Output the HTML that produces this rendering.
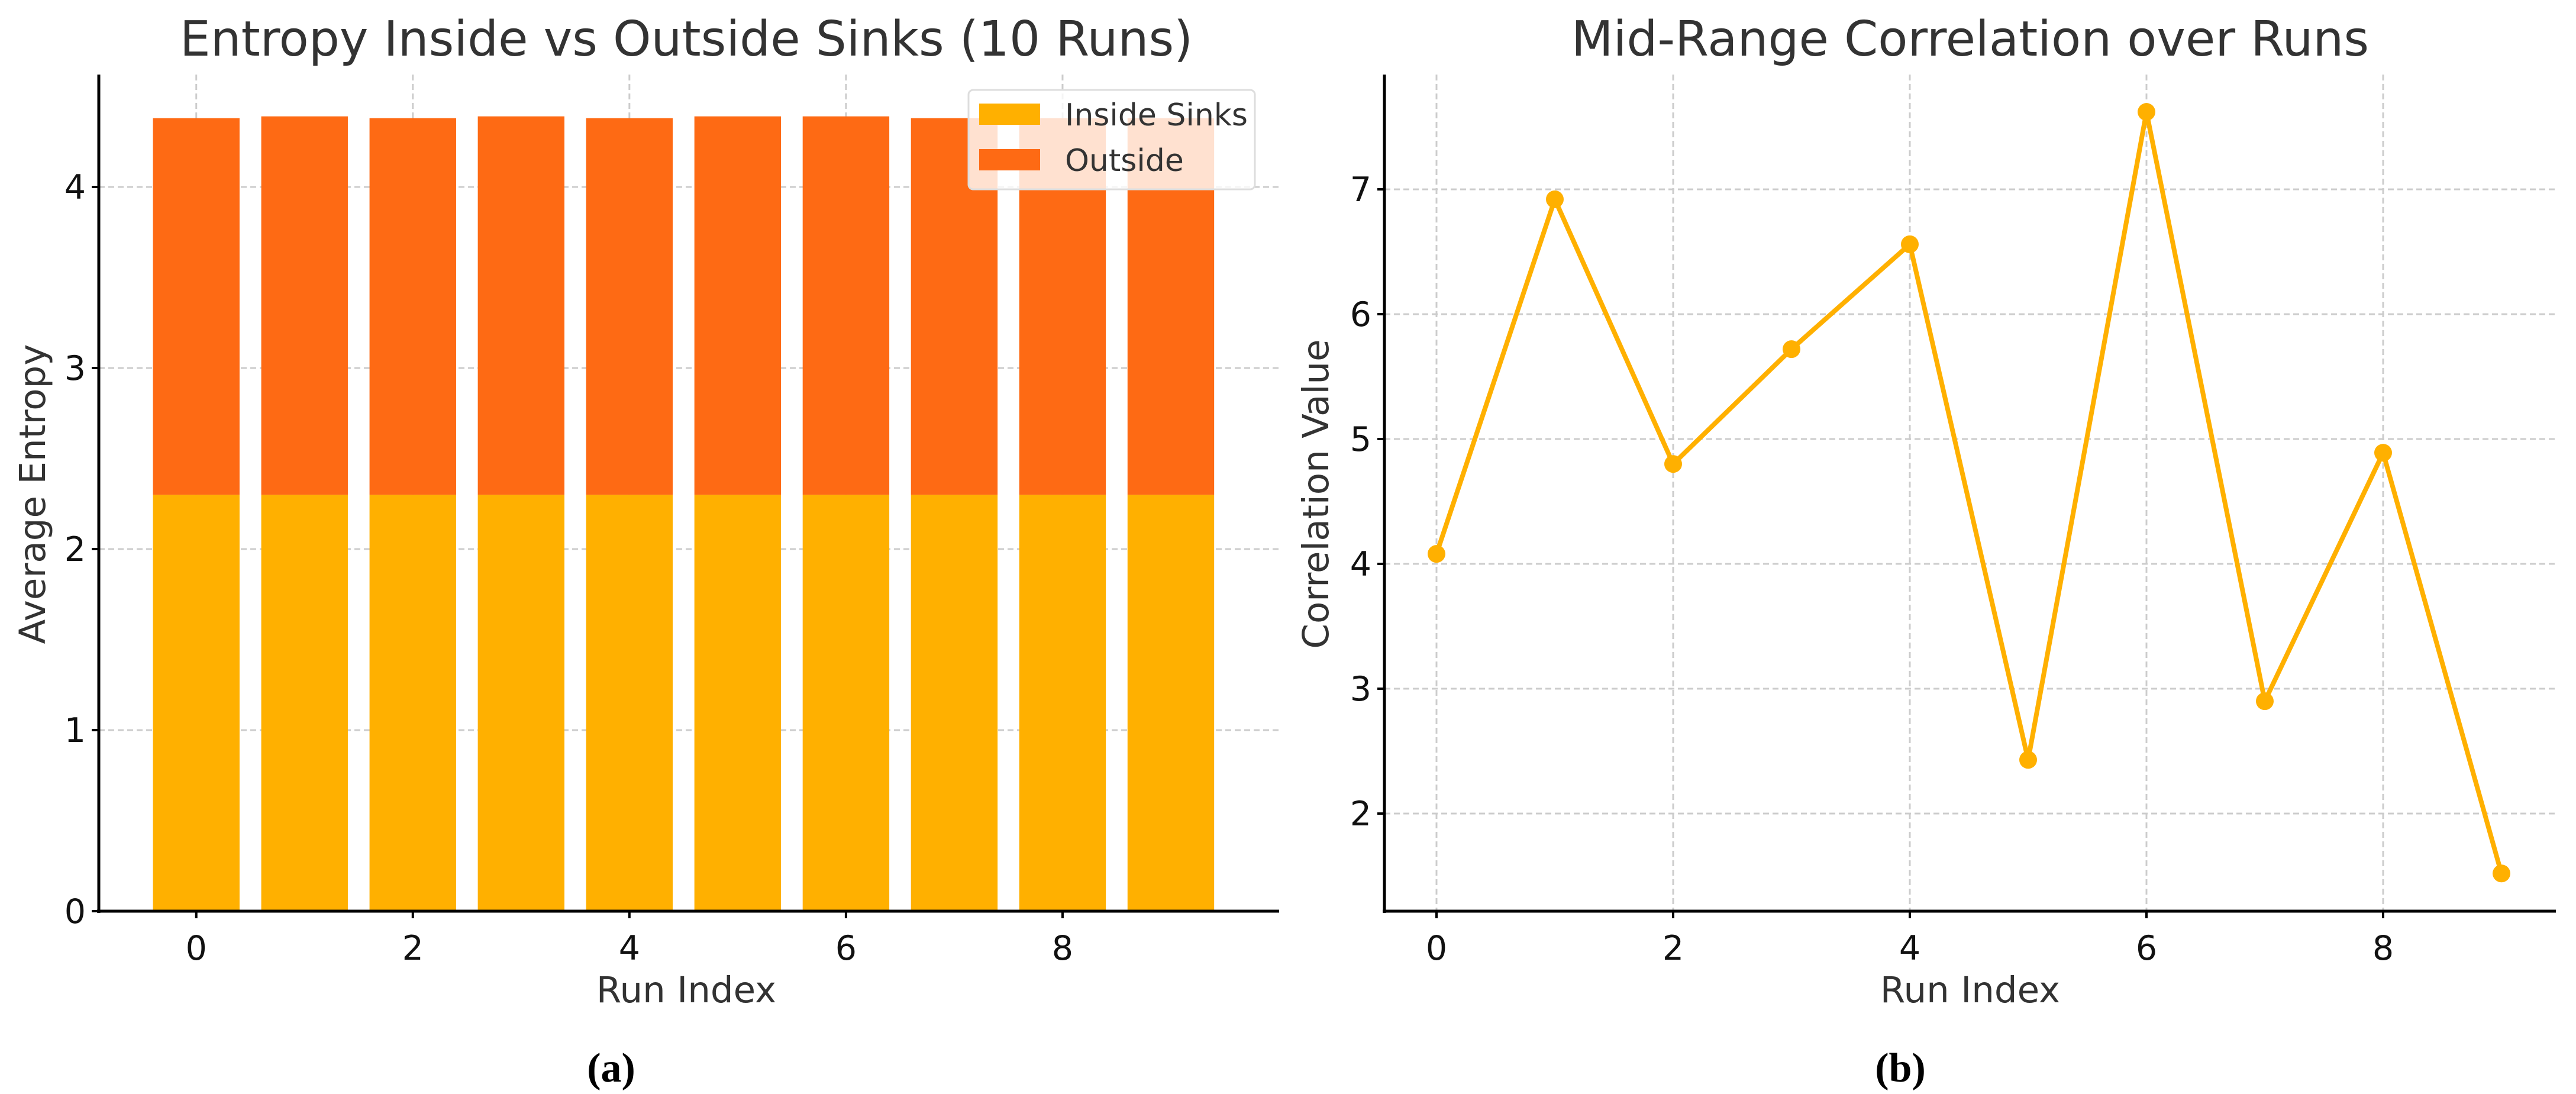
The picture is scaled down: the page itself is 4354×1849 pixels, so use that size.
<!DOCTYPE html>
<html><head><meta charset="utf-8"><style>
html,body{margin:0;padding:0;background:#fff;}
svg{display:block;font-family:"DejaVu Sans","Liberation Sans",sans-serif;}
</style></head><body>
<svg id="fig" width="4354" height="1849" viewBox="0 0 4354 1849"></svg>
<script>
const runs = [0,1,2,3,4,5,6,7,8,9];
const insideVals = [2.30,2.30,2.30,2.30,2.30,2.30,2.30,2.30,2.30,2.30];
const outsideVals = [2.08,2.09,2.08,2.09,2.08,2.09,2.09,2.08,2.08,2.08];
const leftYTicks = [0,1,2,3,4];
const xTicks = [0,2,4,6,8];
const corrVals = [4.08,6.92,4.80,5.72,6.56,2.43,7.62,2.90,4.89,1.52];
const rightYTicks = [2,3,4,5,6,7];

const NS='http://www.w3.org/2000/svg';
const svg=document.getElementById('fig');
function mk(tag,attrs,parent){const e=document.createElementNS(NS,tag);for(const k in attrs)e.setAttribute(k,attrs[k]);(parent||svg).appendChild(e);return e;}
function txt(s,attrs,parent){const e=mk('text',attrs,parent);e.textContent=s;return e;}

// ---------- Left chart ----------
const L={x0:167,x1:2162,y0:1540,yTop:126,xmin:-0.9,xmax:10.0,ymin:0,ymax:4.6};
const lx=v=>L.x0+(v-L.xmin)/(L.xmax-L.xmin)*(L.x1-L.x0);
const ly=v=>L.y0-(v-L.ymin)*306;
const gL=mk('g',{});


leftYTicks.forEach(t=>{const l=mk('line',{x1:L.x0,x2:L.x1,y1:ly(t),y2:ly(t),stroke:'#cccccc','stroke-width':3,'stroke-dasharray':'10,6'},gL);

});
xTicks.forEach(t=>{const l=mk('line',{x1:lx(t),x2:lx(t),y1:L.yTop,y2:L.y0,stroke:'#cccccc','stroke-width':3,'stroke-dasharray':'10,6'},gL);

});
runs.forEach((r,i)=>{
  const w=0.8*183;
  const b1=mk('rect',{x:lx(r)-w/2,y:ly(insideVals[i]),width:w,height:ly(0)-ly(insideVals[i]),fill:'#FFB000'},gL);
  
  
  const top=insideVals[i]+outsideVals[i];
  const b2=mk('rect',{x:lx(r)-w/2,y:ly(top),width:w,height:ly(insideVals[i])-ly(top),fill:'#FE6A14'},gL);
  
  
});
mk('line',{x1:L.x0,x2:L.x0,y1:L.yTop,y2:L.y0+3,stroke:'#000','stroke-width':5},gL);
mk('line',{x1:L.x0-3,x2:L.x1,y1:L.y0,y2:L.y0,stroke:'#000','stroke-width':5},gL);
leftYTicks.forEach(t=>{mk('line',{x1:L.x0-12,x2:L.x0,y1:ly(t),y2:ly(t),stroke:'#000','stroke-width':4},gL);
 const e=txt(String(t),{x:L.x0-22,y:ly(t)+20,'text-anchor':'end','font-size':57,fill:'#111'},gL);
 
 });
xTicks.forEach(t=>{mk('line',{x1:lx(t),x2:lx(t),y1:L.y0,y2:L.y0+12,stroke:'#000','stroke-width':4},gL);
 const e=txt(String(t),{x:lx(t),y:L.y0+82,'text-anchor':'middle','font-size':57,fill:'#111'},gL);
 
 });
let e;
e=txt('Entropy Inside vs Outside Sinks (10 Runs)',{x:1160,y:94,'text-anchor':'middle','font-size':82,fill:'#333'},gL);


e=txt('Run Index',{x:1160,y:1694,'text-anchor':'middle','font-size':61,fill:'#333'},gL);


e=txt('Average Entropy',{x:0,y:0,'text-anchor':'middle','font-size':61,fill:'#333',transform:'translate(76,835) rotate(-90)'},gL);


const lg=mk('g',{},gL);


mk('rect',{x:1637,y:152,width:484,height:168,rx:8,fill:'rgba(255,255,255,0.8)',stroke:'#dddddd','stroke-width':3},lg);
mk('rect',{x:1655,y:175,width:103,height:36,fill:'#FFB000'},lg);
mk('rect',{x:1655,y:252,width:103,height:36,fill:'#FE6A14'},lg);
e=txt('Inside Sinks',{x:1800,y:212,'font-size':52,fill:'#333'},lg);


e=txt('Outside',{x:1800,y:289,'font-size':52,fill:'#333'},lg);



// ---------- Right chart ----------
const R={x0:2340,x1:4320,y0:1540,yTop:126};
const rx=v=>2428+v*200;
const ry=v=>1375-(v-2)*211;
const gR=mk('g',{});


rightYTicks.forEach(t=>{const l=mk('line',{x1:R.x0,x2:R.x1,y1:ry(t),y2:ry(t),stroke:'#cccccc','stroke-width':3,'stroke-dasharray':'10,6'},gR);

});
xTicks.forEach(t=>{const l=mk('line',{x1:rx(t),x2:rx(t),y1:R.yTop,y2:R.y0,stroke:'#cccccc','stroke-width':3,'stroke-dasharray':'10,6'},gR);

});
const pts=runs.map((r,i)=>rx(r)+','+ry(corrVals[i])).join(' ');
const pl=mk('polyline',{points:pts,fill:'none',stroke:'#FFB000','stroke-width':8,'stroke-linejoin':'miter'},gR);


runs.forEach((r,i)=>{const c=mk('circle',{cx:rx(r),cy:ry(corrVals[i]),r:15,fill:'#FFB000'},gR);

});
mk('line',{x1:R.x0,x2:R.x0,y1:R.yTop,y2:R.y0+3,stroke:'#000','stroke-width':5},gR);
mk('line',{x1:R.x0-3,x2:R.x1,y1:R.y0,y2:R.y0,stroke:'#000','stroke-width':5},gR);
rightYTicks.forEach(t=>{mk('line',{x1:R.x0-12,x2:R.x0,y1:ry(t),y2:ry(t),stroke:'#000','stroke-width':4},gR);
 const e=txt(String(t),{x:R.x0-22,y:ry(t)+20,'text-anchor':'end','font-size':57,fill:'#111'},gR);
 
 });
xTicks.forEach(t=>{mk('line',{x1:rx(t),x2:rx(t),y1:R.y0,y2:R.y0+12,stroke:'#000','stroke-width':4},gR);
 const e=txt(String(t),{x:rx(t),y:R.y0+82,'text-anchor':'middle','font-size':57,fill:'#111'},gR);
 
 });
e=txt('Mid-Range Correlation over Runs',{x:3330,y:94,'text-anchor':'middle','font-size':82,fill:'#333'},gR);


e=txt('Run Index',{x:3330,y:1694,'text-anchor':'middle','font-size':61,fill:'#333'},gR);


e=txt('Correlation Value',{x:0,y:0,'text-anchor':'middle','font-size':61,fill:'#333',transform:'translate(2245,835) rotate(-90)'},gR);



e=txt('(a)',{x:1033,y:1828,'text-anchor':'middle','font-size':70,'font-weight':'bold',fill:'#000','font-family':'Liberation Serif, serif'});


e=txt('(b)',{x:3212,y:1828,'text-anchor':'middle','font-size':70,'font-weight':'bold',fill:'#000','font-family':'Liberation Serif, serif'});


</script>
</body></html>
